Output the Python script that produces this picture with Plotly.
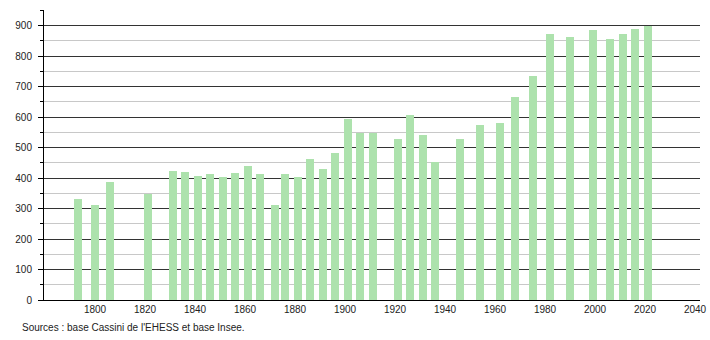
import plotly.graph_objects as go

years = [1793, 1800, 1806, 1821, 1831, 1836, 1841, 1846, 1851, 1856, 1861, 1866,
         1872, 1876, 1881, 1886, 1891, 1896, 1901, 1906, 1911, 1921, 1926, 1931,
         1936, 1946, 1954, 1962, 1968, 1975, 1982, 1990, 1999, 2006, 2011, 2016, 2021]
population = [331, 312, 388, 347, 424, 421, 407, 414, 404, 417, 440, 414,
              312, 414, 404, 463, 430, 483, 595, 548, 548, 528, 608, 542,
              453, 528, 575, 580, 665, 736, 871, 863, 887, 856, 871, 889, 900]
x_ticks = [1800, 1820, 1840, 1860, 1880, 1900, 1920, 1940, 1960, 1980, 2000, 2020, 2040]
y_ticks = [0, 100, 200, 300, 400, 500, 600, 700, 800, 900]
source_text = "Sources : base Cassini de l'EHESS et base Insee."

font = "Liberation Sans, Arial, sans-serif"

fig = go.Figure()
fig.add_trace(go.Bar(
    x=years, y=population, width=3.2,
    marker=dict(color="#ade2ad", line=dict(width=0)),
    hoverinfo="x+y",
))

fig.update_layout(
    width=710, height=340,
    margin=dict(l=44, r=10, t=10, b=40, autoexpand=False),
    paper_bgcolor="white", plot_bgcolor="white",
    showlegend=False,
    font=dict(family=font, size=10, color="#222"),
    bargap=0,
    xaxis=dict(
        range=[1779.6, 2042], tickvals=x_ticks, ticktext=[str(t) for t in x_ticks],
        automargin=False,
        showgrid=False, zeroline=False, showline=True, linecolor="#000", linewidth=1,
        ticks="", tickfont=dict(family=font, size=10, color="#222"),
    ),
    yaxis=dict(
        range=[0, 951], tickvals=y_ticks, ticktext=[str(t) for t in y_ticks],
        automargin=False,
        showgrid=True, gridcolor="#333", gridwidth=1,
        zeroline=False, showline=True, linecolor="#000", linewidth=1,
        ticks="outside", ticklen=5, tickcolor="#000", ticklabelstandoff=4,
        tickfont=dict(family=font, size=10, color="#222"),
        minor=dict(dtick=50, tick0=0, showgrid=True, gridcolor="#c8c8c8", gridwidth=1,
                   ticks="outside", ticklen=3, tickcolor="#000"),
    ),
    annotations=[dict(
        text=source_text, xref="paper", yref="paper",
        x=-24/656, y=-27/290, xanchor="left", yanchor="middle",
        showarrow=False, font=dict(family=font, size=10, color="#222"),
    )],
)

fig.write_html("out.html")
